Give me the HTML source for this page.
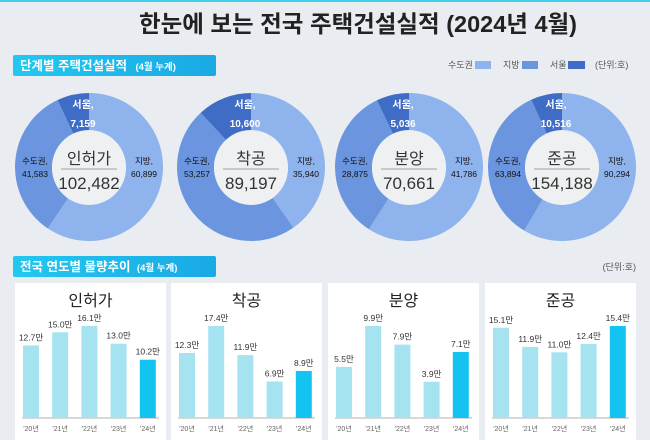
<!DOCTYPE html>
<html><head><meta charset="utf-8">
<style>
body{margin:0;background:#e9edf1;}
svg{display:block;font-family:"Liberation Sans","Noto Sans CJK KR",sans-serif;}
</style></head>
<body>
<svg id="c" width="650" height="440" viewBox="0 0 650 440" xmlns="http://www.w3.org/2000/svg">
<rect x="0" y="0" width="650" height="440" fill="#e9edf1"/>
<rect x="0" y="0" width="650" height="2" fill="#3fd0f0"/>
<text x="358" y="32" text-anchor="middle" font-size="23.5" font-weight="bold" fill="#222">한눈에 보는 전국 주택건설실적 (2024년 4월)</text>
<defs><linearGradient id="g" x1="0" x2="1"><stop offset="0" stop-color="#22c8f0"/><stop offset="1" stop-color="#1aa9e4"/></linearGradient></defs>
<rect x="13" y="55" width="203" height="21" rx="2" fill="url(#g)"/>
<text x="20" y="70" font-size="12.5" font-weight="bold" fill="#fff">단계별 주택건설실적 <tspan font-size="9.5" dx="5">(4월 누계)</tspan></text>
<g font-size="9" fill="#555">
<text x="448" y="68">수도권</text>
<rect x="475" y="61" width="16" height="8" fill="#8fb3ec"/>
<text x="503" y="68">지방</text>
<rect x="522" y="61" width="16" height="8" fill="#6b95df"/>
<text x="550" y="68">서울</text>
<rect x="568" y="61" width="17" height="8" fill="#3f6cc4"/>
<text x="595" y="68">(단위:호)</text>
</g>
<g id="donuts"></g>
<rect x="13" y="256" width="203" height="21" rx="2" fill="url(#g)"/>
<text x="20" y="271" font-size="12.5" font-weight="bold" fill="#fff">전국 연도별 물량추이 <tspan font-size="9.5" dx="3">(4월 누계)</tspan></text>
<text x="636" y="270" text-anchor="end" font-size="9" fill="#555">(단위:호)</text>
<g id="bars"></g>
</svg>
<script>
const stages = ['인허가','착공','분양','준공'];
const totals = [102482, 89197, 70661, 154188];
const regionVals = [60899, 35940, 41786, 90294];
const capitalVals = [41583, 53257, 28875, 63894];
const seoulVals = [7159, 10600, 5036, 10516];
const years = ["'20년","'21년","'22년","'23년","'24년"];
const trend = [
  [12.7, 15.0, 16.1, 13.0, 10.2],
  [12.3, 17.4, 11.9, 6.9, 8.9],
  [5.5, 9.9, 7.9, 3.9, 7.1],
  [15.1, 11.9, 11.0, 12.4, 15.4]
];
const NS='http://www.w3.org/2000/svg';
function mk(tag, attrs, parent, text){const e=document.createElementNS(NS,tag);for(const k in attrs)e.setAttribute(k,attrs[k]);if(text!==undefined)e.textContent=text;parent.appendChild(e);return e;}
const fmt=n=>n.toLocaleString('en-US');
const dg=document.getElementById('donuts');
const cxs=[89,251,409,562], cy=167, R=74, r=37;
function pt(cx,rad,a){return [cx+rad*Math.sin(a), cy-rad*Math.cos(a)];}
function arc(cx,a0,a1){
  const [x0,y0]=pt(cx,R,a0),[x1,y1]=pt(cx,R,a1),[x2,y2]=pt(cx,r,a1),[x3,y3]=pt(cx,r,a0);
  const l=(a1-a0)>Math.PI?1:0;
  return `M${x0},${y0}A${R},${R} 0 ${l} 1 ${x1},${y1}L${x2},${y2}A${r},${r} 0 ${l} 0 ${x3},${y3}Z`;
}
stages.forEach((s,i)=>{
  const cx=cxs[i], tot=regionVals[i]+capitalVals[i];
  const a1=regionVals[i]/tot*2*Math.PI;
  const a2=a1+(capitalVals[i]-seoulVals[i])/tot*2*Math.PI;
  const g=mk('g',{},dg);
  
  
  const p1=mk('path',{d:arc(cx,0,a1),fill:'#8fb3ec'},g);
  
  
  const p2=mk('path',{d:arc(cx,a1,a2),fill:'#6b95df'},g);
  
  
  const p3=mk('path',{d:arc(cx,a2,2*Math.PI),fill:'#3f6cc4'},g);
  
  
  const c=mk('circle',{cx:cx,cy:cy+1,r:r,fill:'#eef0f2'},g);
  
  
  const t1=mk('text',{x:cx,y:cy-3,'text-anchor':'middle','font-size':16,fill:'#333'},g,s);
  
  
  const ln=mk('line',{x1:cx-28,x2:cx+28,y1:cy+2,y2:cy+2,stroke:'#888','stroke-width':0.8},g);
  
  
  const t2=mk('text',{x:cx,y:cy+22,'text-anchor':'middle','font-size':17,fill:'#333'},g,fmt(totals[i]));
  
  
  const sl=mk('text',{x:cx-6,y:cy-59,'text-anchor':'middle','font-size':10,'font-weight':'bold',fill:'#fff'},g,'서울,');
  
  
  const sv=mk('text',{x:cx-6,y:cy-40,'text-anchor':'middle','font-size':10,'font-weight':'bold',fill:'#fff'},g,fmt(seoulVals[i]));
  
  
  const cl=mk('text',{x:cx-54,y:cy-3,'text-anchor':'middle','font-size':8.5,fill:'#111'},g,'수도권,');
  
  
  const cv=mk('text',{x:cx-54,y:cy+10,'text-anchor':'middle','font-size':8.5,fill:'#111'},g,fmt(capitalVals[i]));
  
  
  const rl=mk('text',{x:cx+55,y:cy-3,'text-anchor':'middle','font-size':8.5,fill:'#111'},g,'지방,');
  
  
  const rv=mk('text',{x:cx+55,y:cy+10,'text-anchor':'middle','font-size':8.5,fill:'#111'},g,fmt(regionVals[i]));
  
  
});
const bg=document.getElementById('bars');
const px=[15,171,328,485], pw=151, base=418, maxH=92;
stages.forEach((s,i)=>{
  const x0=px[i];
  const g=mk('g',{},bg);
  
  
  const bgr=mk('rect',{x:x0,y:283,width:pw,height:157,fill:'#fff'},g);
  
  
  const tt=mk('text',{x:x0+pw/2,y:306,'text-anchor':'middle','font-size':16,fill:'#222'},g,s);
  
  
  const ax=mk('line',{x1:x0+7,x2:x0+pw-7,y1:base,y2:base,stroke:'#999','stroke-width':0.8},g);
  
  
  const mx=Math.max(...trend[i]);
  trend[i].forEach((v,j)=>{
    const cx=x0+16+j*29.2;
    const h=v/mx*maxH;
    const b=mk('rect',{x:cx-8,y:base-h,width:16,height:h,fill:j===4?'#13c4f1':'#a6e3f1'},g);
    
    
    const vl=mk('text',{x:cx,y:base-h-5,'text-anchor':'middle','font-size':8.5,fill:'#333'},g,v.toFixed(1)+'만');
    
    
    const yl=mk('text',{x:cx,y:431,'text-anchor':'middle','font-size':7,fill:'#666'},g,years[j]);
    
    
  });
});
</script>
</body></html>
